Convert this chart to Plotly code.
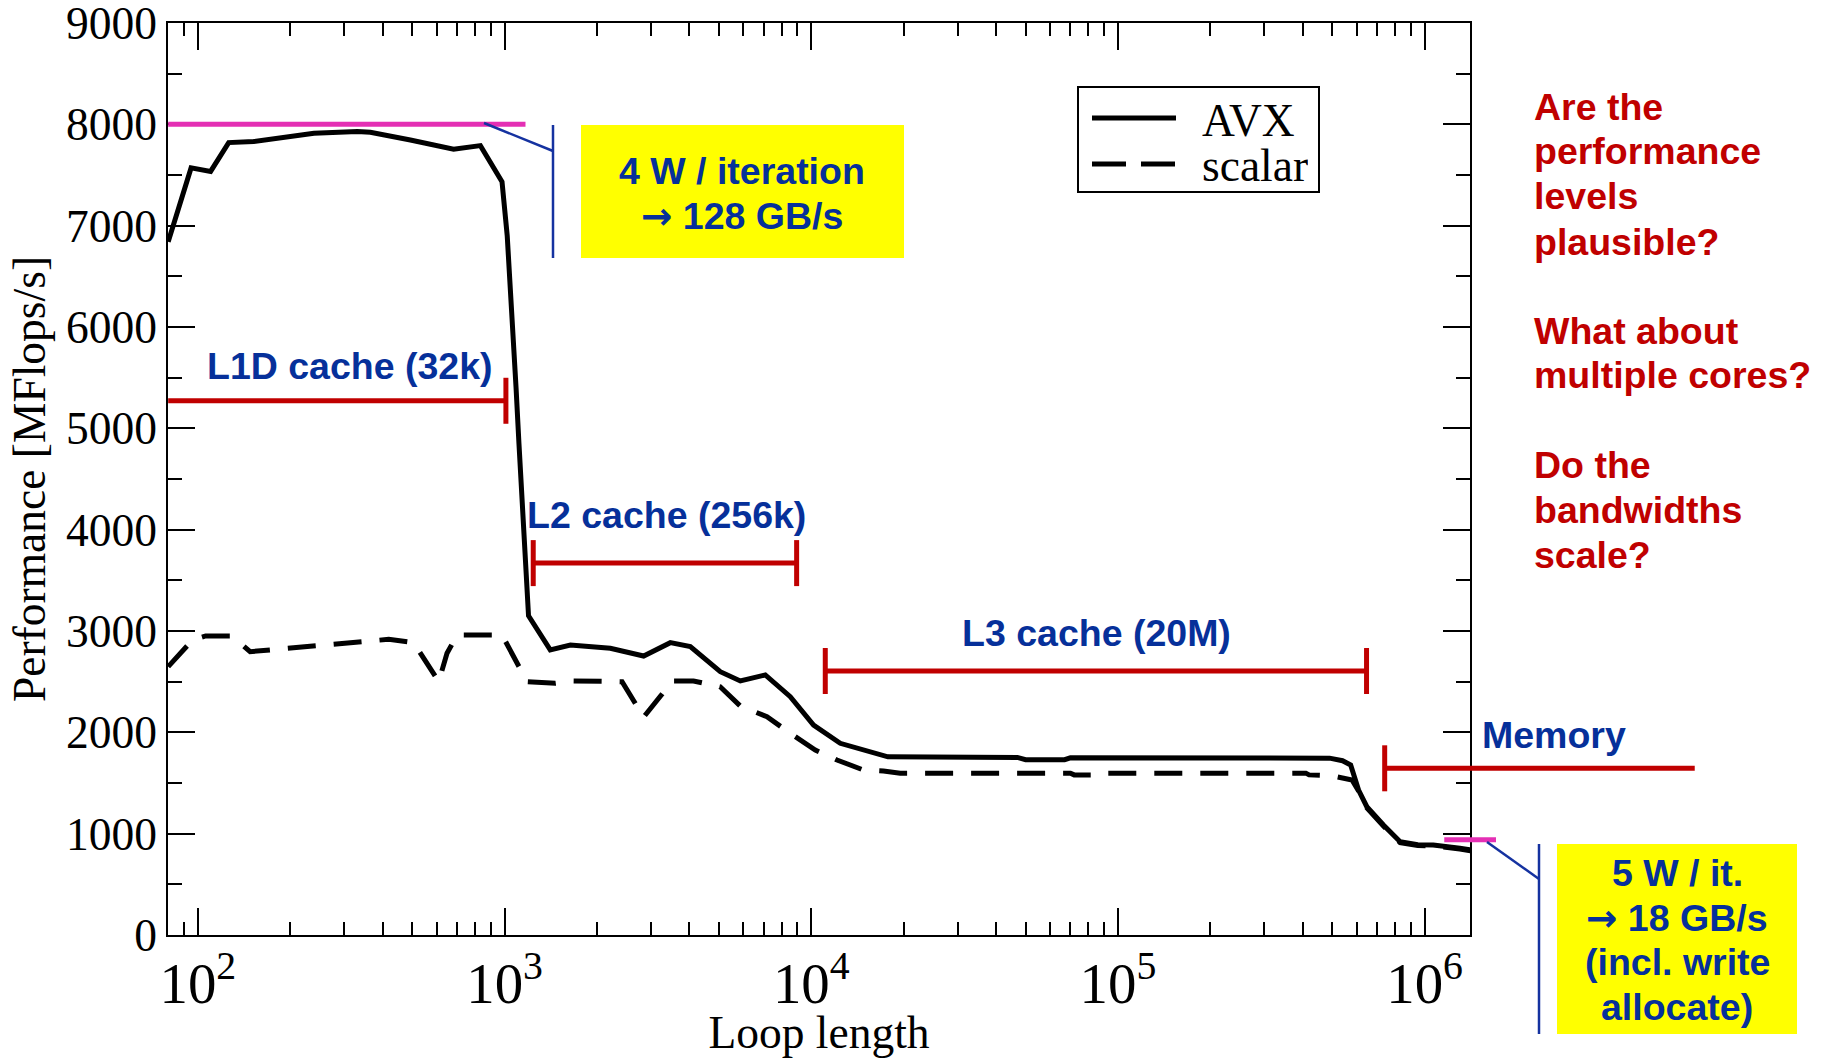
import math
import plotly.graph_objects as go

# ---------------- data ----------------
avx_len = [80, 95, 110, 126, 152, 181, 239, 331, 365, 493, 682, 834, 981,
           1020, 1060, 1090, 1114, 1147, 1180, 1197, 1409, 1639, 2212, 2841,
           3471, 4033, 5051, 5871, 7081, 8542, 10175, 12431, 17780, 47000,
           50000, 67000, 70000, 490000, 540000, 574000, 609000, 648000,
           734000, 832000, 950000, 1067000, 1303000, 1410000]
avx_mflops = [6840, 7570, 7535, 7820, 7830, 7862, 7912, 7930, 7921, 7846, 7754,
              7790, 7434, 6900, 6100, 5400, 4850, 4130, 3370, 3150, 2813, 2862,
              2829, 2753, 2885, 2846, 2598, 2507, 2566, 2352, 2072, 1892, 1758,
              1752, 1730, 1730, 1748, 1745, 1720, 1678, 1431, 1266, 1086, 921,
              890, 888, 856, 840]

scalar_len = [80, 96, 106, 129, 148, 184, 261, 365, 419, 505, 610, 649, 700,
              981, 1184, 1464, 1679, 2416, 2840, 3244, 3514, 4131, 5046, 5870,
              7172, 8543, 10306, 12131, 14800, 17200, 19500, 70000, 72000,
              84000, 86000, 410000, 420000, 498000, 580000, 609000, 648000,
              734000, 832000, 950000, 1067000, 1303000, 1410000]
scalar_mflops = [2648, 2911, 2951, 2951, 2796, 2820, 2868, 2901, 2918, 2885,
                 2500, 2780, 2961, 2961, 2500, 2484, 2507, 2500, 2150, 2368,
                 2507, 2507, 2450, 2260, 2154, 1990, 1826, 1727, 1628, 1618,
                 1597, 1597, 1580, 1580, 1597, 1597, 1580, 1572, 1530, 1420,
                 1255, 1075, 912, 882, 880, 848, 832]

y_tick_vals = [0, 1000, 2000, 3000, 4000, 5000, 6000, 7000, 8000, 9000]

cache_names = ["L1D cache (32k)", "L2 cache (256k)", "L3 cache (20M)", "Memory"]
cache_start = [80, 1240, 11110, 741000]
cache_end = [1010, 8960, 646600, 7600000]
cache_level = [5272, 3670, 2605, 1645]
cache_left_cap = [False, True, True, True]
cache_right_cap = [True, True, True, False]

peak_avx_level = 8000
peak_avx_range = [80, 1170]
peak_mem_level = 940
peak_mem_range = [1159000, 1709000]

ARROW = "<span style=\"font-family:'DejaVu Sans'\">\u2192</span>"
questions = [["Are the", "performance", "levels", "plausible?"],
             ["What about", "multiple cores?"],
             ["Do the", "bandwidths", "scale?"]]
box_top_lines = ["4 W / iteration", ARROW + " 128 GB/s"]
box_bottom_lines = ["5 W / it.", ARROW + " 18 GB/s", "(incl. write", "allocate)"]

# ---------------- geometry ----------------
W, H = 1821, 1058
ML, MR, MT, MB = 168, 351, 23, 123
XMIN, XMAX = 1.9025, 6.148
YMAX = 9000
PW, PH = W - ML - MR, H - MT - MB

def xp(v):
    return (math.log10(v) - XMIN) / (XMAX - XMIN)

def yp(v):
    return v / YMAX

def px_x(p):
    return (p - ML) / PW

def px_y(p):
    return (H - MB - p) / PH

PINK = "#E42FB4"
RED = "#C00000"
BLUE = "#06309A"
LBLUE = "#1532A0"
YELLOW = "#FFFF00"
SERIF = "Liberation Serif, Times New Roman, serif"
SANS = "Liberation Sans, Arial, sans-serif"
SANS_SIZE = 37.5
SERIF_SIZE = 45.5

fig = go.Figure()
fig.add_trace(go.Scatter(x=avx_len, y=avx_mflops, mode="lines", name="AVX",
                         line=dict(color="black", width=5), showlegend=False))
fig.add_trace(go.Scatter(x=scalar_len, y=scalar_mflops, mode="lines", name="scalar",
                         line=dict(color="black", width=5, dash="28px,18px"),
                         showlegend=False))

shapes = []
annotations = []

def seg(x0, y0, x1, y1, color, width, dash=None):
    d = dict(type="line", xref="paper", yref="paper", x0=x0, y0=y0, x1=x1, y1=y1,
             line=dict(color=color, width=width))
    if dash:
        d["line"]["dash"] = dash
    shapes.append(d)

# peak performance lines
seg(xp(peak_avx_range[0]), yp(peak_avx_level), xp(peak_avx_range[1]), yp(peak_avx_level), PINK, 5)
seg(xp(peak_mem_range[0]), yp(peak_mem_level), xp(peak_mem_range[1]), yp(peak_mem_level), PINK, 5)

# cache range bars
CAP = 23 / PH
for s, e, lvl, lc, rc in zip(cache_start, cache_end, cache_level, cache_left_cap, cache_right_cap):
    seg(xp(s), yp(lvl), xp(e), yp(lvl), RED, 5)
    if lc:
        seg(xp(s), yp(lvl) - CAP, xp(s), yp(lvl) + CAP, RED, 5)
    if rc:
        seg(xp(e), yp(lvl) - CAP, xp(e), yp(lvl) + CAP, RED, 5)

# cache labels
label_pos = [(350, 366), (666, 515), (1096, 633), (1554, 735)]
for name, (cx, cy) in zip(cache_names, label_pos):
    annotations.append(dict(xref="paper", yref="paper", x=px_x(cx), y=px_y(cy),
                            text="<b>%s</b>" % name, showarrow=False,
                            xanchor="center", yanchor="middle",
                            font=dict(family=SANS, size=SANS_SIZE, color=BLUE)))

# yellow boxes and connectors
shapes.append(dict(type="rect", xref="paper", yref="paper", x0=px_x(581), x1=px_x(904),
                   y0=px_y(258), y1=px_y(125), fillcolor=YELLOW, line=dict(width=0), layer="above"))
shapes.append(dict(type="rect", xref="paper", yref="paper", x0=px_x(1557), x1=px_x(1797),
                   y0=px_y(1034), y1=px_y(844), fillcolor=YELLOW, line=dict(width=0), layer="above"))
seg(px_x(484), px_y(123), px_x(553), px_y(151), LBLUE, 2.5)
seg(px_x(553), px_y(125), px_x(553), px_y(258), LBLUE, 2.5)
seg(px_x(1487), px_y(842), px_x(1539), px_y(879), LBLUE, 2.5)
seg(px_x(1539), px_y(844), px_x(1539), px_y(1034), LBLUE, 2.5)

for t, cy in zip(box_top_lines, [171, 216]):
    annotations.append(dict(xref="paper", yref="paper", x=px_x(742), y=px_y(cy),
                            text="<b>%s</b>" % t, showarrow=False,
                            xanchor="center", yanchor="middle",
                            font=dict(family=SANS, size=SANS_SIZE, color=BLUE)))
for t, cy in zip(box_bottom_lines, [873, 918, 962, 1007]):
    annotations.append(dict(xref="paper", yref="paper", x=px_x(1677), y=px_y(cy),
                            text="<b>%s</b>" % t, showarrow=False,
                            xanchor="center", yanchor="middle",
                            font=dict(family=SANS, size=SANS_SIZE, color=BLUE)))

# questions on the right
q_y = [[107, 151, 196, 242], [331, 375], [465, 510, 555]]
for group, ys in zip(questions, q_y):
    for t, cy in zip(group, ys):
        annotations.append(dict(xref="paper", yref="paper", x=px_x(1532), y=px_y(cy),
                                text="<b>%s</b>" % t, showarrow=False,
                                xanchor="left", yanchor="middle",
                                font=dict(family=SANS, size=SANS_SIZE, color=RED)))

# manual legend
shapes.append(dict(type="rect", xref="paper", yref="paper", x0=px_x(1078), x1=px_x(1319),
                   y0=px_y(192), y1=px_y(87), fillcolor="white",
                   line=dict(color="black", width=2)))
seg(px_x(1092), px_y(118), px_x(1176), px_y(118), "black", 5)
seg(px_x(1092), px_y(164), px_x(1176), px_y(164), "black", 5, dash="34px,15px")
for t, cy in zip(["AVX", "scalar"], [120, 165]):
    annotations.append(dict(xref="paper", yref="paper", x=px_x(1200), y=px_y(cy),
                            text=t, showarrow=False, xanchor="left", yanchor="middle",
                            height=44,
                            font=dict(family=SERIF, size=SERIF_SIZE, color="black")))

fig.update_layout(
    width=W, height=H,
    margin=dict(l=ML, r=MR, t=MT, b=MB, pad=0),
    paper_bgcolor="white", plot_bgcolor="white",
    showlegend=False,
    shapes=shapes, annotations=annotations,
    font=dict(family=SERIF, color="black"),
)
fig.update_xaxes(
    type="log", range=[XMIN, XMAX], dtick=1, exponentformat="power",
    showgrid=False, zeroline=False,
    showline=True, linecolor="black", linewidth=2, mirror="ticks",
    ticks="inside", ticklen=27, tickwidth=2, tickcolor="black",
    minor=dict(ticks="inside", ticklen=13, tickwidth=2, tickcolor="black",
               dtick="D1", showgrid=False),
    tickfont=dict(family=SERIF, size=SERIF_SIZE, color="black"),
    ticklabeloverflow="allow",
    title=dict(text="Loop length", font=dict(family=SERIF, size=SERIF_SIZE, color="black"),
               standoff=4),
    automargin=False,
)
fig.update_yaxes(
    range=[0, YMAX], tickvals=y_tick_vals,
    showgrid=False, zeroline=False,
    showline=True, linecolor="black", linewidth=2, mirror="ticks",
    ticks="inside", ticklen=27, tickwidth=2, tickcolor="black",
    minor=dict(ticks="inside", ticklen=14, tickwidth=2, tickcolor="black",
               dtick=500, showgrid=False),
    tickfont=dict(family=SERIF, size=SERIF_SIZE, color="black"),
    ticklabeloverflow="allow",
    title=dict(text="Performance [MFlops/s]",
               font=dict(family=SERIF, size=SERIF_SIZE, color="black"), standoff=6),
    automargin=False,
)

fig.write_html("out.html", include_plotlyjs=True, config={"displayModeBar": False},
               post_script="document.body.style.margin='0px';")
